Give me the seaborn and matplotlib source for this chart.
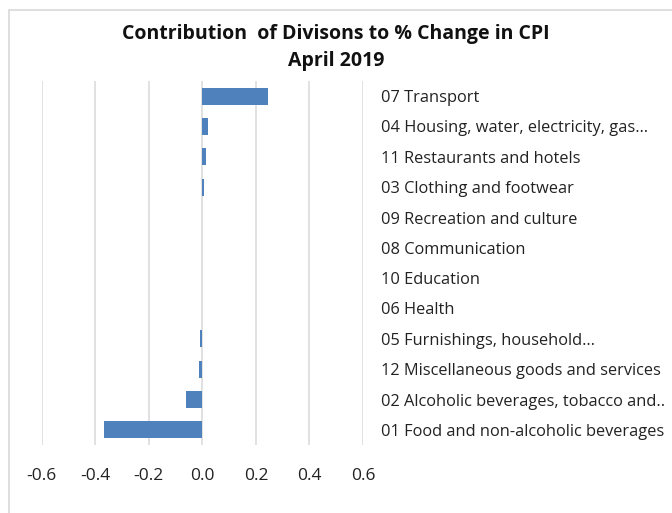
import matplotlib
matplotlib.use("Agg")
import matplotlib.pyplot as plt
import seaborn as sns
import pandas as pd
from matplotlib.patches import Rectangle

categories = [
    "07 Transport",
    "04 Housing, water, electricity, gas…",
    "11 Restaurants and hotels",
    "03 Clothing and footwear",
    "09 Recreation and culture",
    "08 Communication",
    "10 Education",
    "06 Health",
    "05 Furnishings, household…",
    "12 Miscellaneous goods and services",
    "02 Alcoholic beverages, tobacco and..",
    "01 Food and non-alcoholic beverages",
]
values = [0.247, 0.021, 0.012, 0.007, 0.0, 0.0, 0.0, 0.0, -0.009, -0.013, -0.06, -0.369]
xticks = [-0.6, -0.4, -0.2, 0.0, 0.2, 0.4, 0.6]
xtick_labels = ["-0.6", "-0.4", "-0.2", "0.0", "0.2", "0.4", "0.6"]
title = "Contribution  of Divisons to % Change in CPI\nApril 2019"

sns.set_style("white")
plt.rcParams['font.family'] = ['Open Sans', 'DejaVu Sans']

df = pd.DataFrame({"category": categories, "value": values})

fig = plt.figure(figsize=(6.72, 5.13), dpi=100)
ax = fig.add_axes([41.7/672, 1 - 445/513, (363 - 41.7)/672, (445 - 81)/513])

sns.barplot(data=df, x="value", y="category", orient="h", color="#4F81BD",
            width=0.57, saturation=1, ax=ax, linewidth=0)

ax.set_xlim(-0.6, 0.6)
ax.set_ylim(11.5, -0.5)
ax.set_xticks(xticks)
ax.set_xticklabels(xtick_labels, fontsize=12.5, color="#222222")
ax.yaxis.tick_right()
ax.tick_params(axis="y", length=0, pad=13, labelsize=11.8, labelcolor="#222222")
ax.tick_params(axis="x", length=0, pad=16.5)
ax.set_xlabel("")
ax.set_ylabel("")
for s in ax.spines.values():
    s.set_visible(False)
ax.grid(axis="x", color="#D9D9D9", linewidth=1.1)
ax.grid(axis="y", visible=False)
ax.set_axisbelow(True)

fig.text(0.5, 1 - 47.5/513, title, ha="center", va="center", fontsize=14,
         fontweight="bold", linespacing=1.45, color="#111111")

fig.patches.append(Rectangle((9/672, -0.1), 1.2, 1 - 9.5/513 + 0.1, transform=fig.transFigure,
                             fill=False, edgecolor="#D9D9D9", linewidth=1.2))

fig.savefig("out.png", dpi=100)
